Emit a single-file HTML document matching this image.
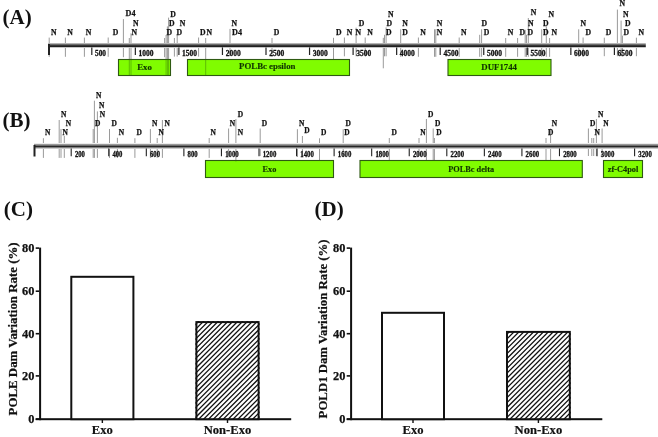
<!DOCTYPE html>
<html><head><meta charset="utf-8"><title>Figure</title>
<style>
html,body{margin:0;padding:0;background:#fff;width:658px;height:437px;overflow:hidden;}
svg{display:block;will-change:transform;}
text{font-family:"Liberation Serif", serif;font-weight:bold;}
</style></head><body>
<svg width="658" height="437" viewBox="0 0 658 437" font-family='"Liberation Serif", serif' font-weight="bold">

<rect width="658" height="437" fill="#fff"/>
<text x="2.6" y="24.3" font-size="21" fill="#111">(A)</text>
<text x="2.6" y="126.6" font-size="21" fill="#111">(B)</text>
<text x="3.8" y="216.2" font-size="21" fill="#111">(C)</text>
<text x="314.6" y="216.1" font-size="21" fill="#111">(D)</text>
<line x1="49.2" y1="37.6" x2="49.2" y2="56.8" stroke="#9a9a9a" stroke-width="1"/>
<line x1="65.4" y1="37.6" x2="65.4" y2="56.8" stroke="#9a9a9a" stroke-width="1"/>
<line x1="84.4" y1="37.6" x2="84.4" y2="56.8" stroke="#9a9a9a" stroke-width="1"/>
<line x1="108.2" y1="37.5" x2="108.2" y2="56.8" stroke="#9a9a9a" stroke-width="1"/>
<line x1="123.4" y1="19.1" x2="123.4" y2="57.2" stroke="#9a9a9a" stroke-width="1"/>
<line x1="129.3" y1="38" x2="129.3" y2="75" stroke="#9a9a9a" stroke-width="1"/>
<line x1="131.0" y1="33.3" x2="131.0" y2="75" stroke="#9a9a9a" stroke-width="1"/>
<line x1="164.6" y1="38" x2="164.6" y2="57.2" stroke="#9a9a9a" stroke-width="1"/>
<line x1="166.1" y1="35" x2="166.1" y2="75" stroke="#9a9a9a" stroke-width="1"/>
<line x1="167.4" y1="26.4" x2="167.4" y2="75" stroke="#9a9a9a" stroke-width="1"/>
<line x1="168.6" y1="17.6" x2="168.6" y2="75" stroke="#9a9a9a" stroke-width="1"/>
<line x1="174.4" y1="38" x2="174.4" y2="56.6" stroke="#9a9a9a" stroke-width="1"/>
<line x1="177.2" y1="34.6" x2="177.2" y2="56.6" stroke="#9a9a9a" stroke-width="1"/>
<line x1="198.6" y1="37.5" x2="198.6" y2="56.6" stroke="#9a9a9a" stroke-width="1"/>
<line x1="205.7" y1="38" x2="205.7" y2="75.5" stroke="#9a9a9a" stroke-width="1"/>
<line x1="230.0" y1="28.9" x2="230.0" y2="56.0" stroke="#9a9a9a" stroke-width="1"/>
<line x1="272.0" y1="38" x2="272.0" y2="56.6" stroke="#9a9a9a" stroke-width="1"/>
<line x1="333.5" y1="37.8" x2="333.5" y2="59.5" stroke="#9a9a9a" stroke-width="1"/>
<line x1="344.4" y1="37.5" x2="344.4" y2="56.3" stroke="#9a9a9a" stroke-width="1"/>
<line x1="356.1" y1="27.7" x2="356.1" y2="56.3" stroke="#9a9a9a" stroke-width="1"/>
<line x1="365.2" y1="37.5" x2="365.2" y2="56.3" stroke="#9a9a9a" stroke-width="1"/>
<line x1="383.3" y1="37.8" x2="383.3" y2="68.3" stroke="#9a9a9a" stroke-width="1"/>
<line x1="384.5" y1="34.8" x2="384.5" y2="56.3" stroke="#9a9a9a" stroke-width="1"/>
<line x1="386.1" y1="27.4" x2="386.1" y2="56.3" stroke="#9a9a9a" stroke-width="1"/>
<line x1="400.7" y1="29.3" x2="400.7" y2="56.8" stroke="#9a9a9a" stroke-width="1"/>
<line x1="418.4" y1="37.5" x2="418.4" y2="56.8" stroke="#9a9a9a" stroke-width="1"/>
<line x1="434.5" y1="29.3" x2="434.5" y2="56.8" stroke="#9a9a9a" stroke-width="1"/>
<line x1="435.8" y1="29.3" x2="435.8" y2="56.8" stroke="#9a9a9a" stroke-width="1"/>
<line x1="459.2" y1="37.5" x2="459.2" y2="56.8" stroke="#9a9a9a" stroke-width="1"/>
<line x1="479.7" y1="34.8" x2="479.7" y2="56.8" stroke="#9a9a9a" stroke-width="1"/>
<line x1="481.6" y1="29.3" x2="481.6" y2="56.8" stroke="#9a9a9a" stroke-width="1"/>
<line x1="505.7" y1="38" x2="505.7" y2="56.8" stroke="#9a9a9a" stroke-width="1"/>
<line x1="517.6" y1="38" x2="517.6" y2="56.8" stroke="#9a9a9a" stroke-width="1"/>
<line x1="525.2" y1="29.8" x2="525.2" y2="56.8" stroke="#9a9a9a" stroke-width="1"/>
<line x1="526.5" y1="34.8" x2="526.5" y2="56.8" stroke="#9a9a9a" stroke-width="1"/>
<line x1="528.3" y1="18" x2="528.3" y2="56.8" stroke="#9a9a9a" stroke-width="1"/>
<line x1="541.7" y1="29.3" x2="541.7" y2="56.8" stroke="#9a9a9a" stroke-width="1"/>
<line x1="546.3" y1="26.2" x2="546.3" y2="56.8" stroke="#9a9a9a" stroke-width="1"/>
<line x1="549.6" y1="38" x2="549.6" y2="56.8" stroke="#9a9a9a" stroke-width="1"/>
<line x1="578.7" y1="29.3" x2="578.7" y2="56.8" stroke="#9a9a9a" stroke-width="1"/>
<line x1="583.1" y1="37.5" x2="583.1" y2="56.8" stroke="#9a9a9a" stroke-width="1"/>
<line x1="604.3" y1="37.7" x2="604.3" y2="56.2" stroke="#9a9a9a" stroke-width="1"/>
<line x1="617.4" y1="9.6" x2="617.4" y2="56.2" stroke="#9a9a9a" stroke-width="1"/>
<line x1="621.1" y1="20.6" x2="621.1" y2="56.2" stroke="#9a9a9a" stroke-width="1"/>
<line x1="622.4" y1="35.6" x2="622.4" y2="56.2" stroke="#9a9a9a" stroke-width="1"/>
<line x1="636.4" y1="37.7" x2="636.4" y2="56.2" stroke="#9a9a9a" stroke-width="1"/>
<rect x="48" y="43" width="597.8" height="1" fill="#b4b4b4"/>
<rect x="48" y="44" width="597.8" height="1" fill="#6c6c6c"/>
<rect x="48" y="45" width="597.8" height="1" fill="#373737"/>
<rect x="48" y="46" width="597.8" height="1" fill="#202020"/>
<rect x="48" y="47" width="597.8" height="1" fill="#c8c8c8"/>
<rect x="48" y="44" width="2" height="11" fill="#222"/>
<line x1="91.80" y1="47.4" x2="91.80" y2="55" stroke="#222" stroke-width="1.2"/>
<text x="95.00" y="55.6" font-size="8.2" textLength="11.0" lengthAdjust="spacingAndGlyphs" fill="#111" stroke="#111" stroke-width="0.3">500</text>
<line x1="135.35" y1="47.4" x2="135.35" y2="55" stroke="#222" stroke-width="1.2"/>
<text x="138.55" y="55.6" font-size="8.2" textLength="15.0" lengthAdjust="spacingAndGlyphs" fill="#111" stroke="#111" stroke-width="0.3">1000</text>
<line x1="178.90" y1="47.4" x2="178.90" y2="55" stroke="#222" stroke-width="1.2"/>
<text x="182.10" y="55.6" font-size="8.2" textLength="15.0" lengthAdjust="spacingAndGlyphs" fill="#111" stroke="#111" stroke-width="0.3">1500</text>
<line x1="222.45" y1="47.4" x2="222.45" y2="55" stroke="#222" stroke-width="1.2"/>
<text x="225.65" y="55.6" font-size="8.2" textLength="15.0" lengthAdjust="spacingAndGlyphs" fill="#111" stroke="#111" stroke-width="0.3">2000</text>
<line x1="266.00" y1="47.4" x2="266.00" y2="55" stroke="#222" stroke-width="1.2"/>
<text x="269.20" y="55.6" font-size="8.2" textLength="15.0" lengthAdjust="spacingAndGlyphs" fill="#111" stroke="#111" stroke-width="0.3">2500</text>
<line x1="309.55" y1="47.4" x2="309.55" y2="55" stroke="#222" stroke-width="1.2"/>
<text x="312.75" y="55.6" font-size="8.2" textLength="15.0" lengthAdjust="spacingAndGlyphs" fill="#111" stroke="#111" stroke-width="0.3">3000</text>
<line x1="353.10" y1="47.4" x2="353.10" y2="55" stroke="#222" stroke-width="1.2"/>
<text x="356.30" y="55.6" font-size="8.2" textLength="15.0" lengthAdjust="spacingAndGlyphs" fill="#111" stroke="#111" stroke-width="0.3">3500</text>
<line x1="396.65" y1="47.4" x2="396.65" y2="55" stroke="#222" stroke-width="1.2"/>
<text x="399.85" y="55.6" font-size="8.2" textLength="15.0" lengthAdjust="spacingAndGlyphs" fill="#111" stroke="#111" stroke-width="0.3">4000</text>
<line x1="440.20" y1="47.4" x2="440.20" y2="55" stroke="#222" stroke-width="1.2"/>
<text x="443.40" y="55.6" font-size="8.2" textLength="15.0" lengthAdjust="spacingAndGlyphs" fill="#111" stroke="#111" stroke-width="0.3">4500</text>
<line x1="483.75" y1="47.4" x2="483.75" y2="55" stroke="#222" stroke-width="1.2"/>
<text x="486.95" y="55.6" font-size="8.2" textLength="15.0" lengthAdjust="spacingAndGlyphs" fill="#111" stroke="#111" stroke-width="0.3">5000</text>
<line x1="527.30" y1="47.4" x2="527.30" y2="55" stroke="#222" stroke-width="1.2"/>
<text x="530.50" y="55.6" font-size="8.2" textLength="15.0" lengthAdjust="spacingAndGlyphs" fill="#111" stroke="#111" stroke-width="0.3">5500</text>
<line x1="570.85" y1="47.4" x2="570.85" y2="55" stroke="#222" stroke-width="1.2"/>
<text x="574.05" y="55.6" font-size="8.2" textLength="15.0" lengthAdjust="spacingAndGlyphs" fill="#111" stroke="#111" stroke-width="0.3">6000</text>
<line x1="614.40" y1="47.4" x2="614.40" y2="55" stroke="#222" stroke-width="1.2"/>
<text x="617.60" y="55.6" font-size="8.2" textLength="15.0" lengthAdjust="spacingAndGlyphs" fill="#111" stroke="#111" stroke-width="0.3">6500</text>
<rect x="118.5" y="59.5" width="52" height="16" fill="#80fc00" stroke="#2e5a12" stroke-width="1.1"/>
<text x="144.50" y="69.60" font-size="8.8" text-anchor="middle" fill="#0f3300" stroke="#0f3300" stroke-width="0.15">Exo</text>
<rect x="187.5" y="59.5" width="162" height="16" fill="#80fc00" stroke="#2e5a12" stroke-width="1.1"/>
<text x="267.30" y="69.30" font-size="8.8" text-anchor="middle" fill="#0f3300" stroke="#0f3300" stroke-width="0.15">POLBc epsilon</text>
<rect x="448.0" y="59.5" width="103.0" height="16" fill="#80fc00" stroke="#2e5a12" stroke-width="1.1"/>
<text x="499.20" y="69.60" font-size="8.8" text-anchor="middle" fill="#0f3300" stroke="#0f3300" stroke-width="0.15">DUF1744</text>
<line x1="129.3" y1="59" x2="129.3" y2="75" stroke="#2f6a08" stroke-width="0.8" opacity="0.55"/>
<line x1="131.0" y1="59" x2="131.0" y2="75" stroke="#2f6a08" stroke-width="0.8" opacity="0.55"/>
<line x1="166.1" y1="59" x2="166.1" y2="75" stroke="#2f6a08" stroke-width="0.8" opacity="0.55"/>
<line x1="167.4" y1="59" x2="167.4" y2="75" stroke="#2f6a08" stroke-width="0.8" opacity="0.55"/>
<line x1="168.6" y1="59" x2="168.6" y2="75" stroke="#2f6a08" stroke-width="0.8" opacity="0.55"/>
<line x1="205.7" y1="59" x2="205.7" y2="75.5" stroke="#2f6a08" stroke-width="0.8" opacity="0.55"/>
<text x="50.9" y="34.5" font-size="8.6" textLength="5.6" lengthAdjust="spacingAndGlyphs" fill="#111" stroke="#111" stroke-width="0.25">N</text>
<text x="67.3" y="34.5" font-size="8.6" textLength="5.6" lengthAdjust="spacingAndGlyphs" fill="#111" stroke="#111" stroke-width="0.25">N</text>
<text x="85.7" y="34.5" font-size="8.6" textLength="5.6" lengthAdjust="spacingAndGlyphs" fill="#111" stroke="#111" stroke-width="0.25">N</text>
<text x="112.8" y="34.5" font-size="8.6" textLength="5.6" lengthAdjust="spacingAndGlyphs" fill="#111" stroke="#111" stroke-width="0.25">D</text>
<text x="125.6" y="16.200000000000003" font-size="8.6" textLength="10.0" lengthAdjust="spacingAndGlyphs" fill="#111" stroke="#111" stroke-width="0.25">D4</text>
<text x="132.9" y="25.700000000000003" font-size="8.6" textLength="5.6" lengthAdjust="spacingAndGlyphs" fill="#111" stroke="#111" stroke-width="0.25">N</text>
<text x="131.6" y="34.5" font-size="8.6" textLength="5.6" lengthAdjust="spacingAndGlyphs" fill="#111" stroke="#111" stroke-width="0.25">N</text>
<text x="170.2" y="17.400000000000002" font-size="8.6" textLength="5.6" lengthAdjust="spacingAndGlyphs" fill="#111" stroke="#111" stroke-width="0.25">D</text>
<text x="169.0" y="25.700000000000003" font-size="8.6" textLength="5.6" lengthAdjust="spacingAndGlyphs" fill="#111" stroke="#111" stroke-width="0.25">D</text>
<text x="166.5" y="34.5" font-size="8.6" textLength="5.6" lengthAdjust="spacingAndGlyphs" fill="#111" stroke="#111" stroke-width="0.25">D</text>
<text x="179.7" y="25.700000000000003" font-size="8.6" textLength="5.6" lengthAdjust="spacingAndGlyphs" fill="#111" stroke="#111" stroke-width="0.25">N</text>
<text x="176.5" y="34.5" font-size="8.6" textLength="5.6" lengthAdjust="spacingAndGlyphs" fill="#111" stroke="#111" stroke-width="0.25">D</text>
<text x="200.1" y="34.5" font-size="8.6" textLength="5.6" lengthAdjust="spacingAndGlyphs" fill="#111" stroke="#111" stroke-width="0.25">D</text>
<text x="206.6" y="34.5" font-size="8.6" textLength="5.6" lengthAdjust="spacingAndGlyphs" fill="#111" stroke="#111" stroke-width="0.25">N</text>
<text x="231.5" y="25.700000000000003" font-size="8.6" textLength="5.6" lengthAdjust="spacingAndGlyphs" fill="#111" stroke="#111" stroke-width="0.25">N</text>
<text x="232.1" y="34.5" font-size="8.6" textLength="10.0" lengthAdjust="spacingAndGlyphs" fill="#111" stroke="#111" stroke-width="0.25">D4</text>
<text x="273.8" y="34.5" font-size="8.6" textLength="5.6" lengthAdjust="spacingAndGlyphs" fill="#111" stroke="#111" stroke-width="0.25">D</text>
<text x="336.1" y="34.5" font-size="8.6" textLength="5.6" lengthAdjust="spacingAndGlyphs" fill="#111" stroke="#111" stroke-width="0.25">D</text>
<text x="346.8" y="34.5" font-size="8.6" textLength="5.6" lengthAdjust="spacingAndGlyphs" fill="#111" stroke="#111" stroke-width="0.25">N</text>
<text x="355.6" y="34.5" font-size="8.6" textLength="5.6" lengthAdjust="spacingAndGlyphs" fill="#111" stroke="#111" stroke-width="0.25">N</text>
<text x="358.8" y="25.700000000000003" font-size="8.6" textLength="5.6" lengthAdjust="spacingAndGlyphs" fill="#111" stroke="#111" stroke-width="0.25">D</text>
<text x="367.2" y="34.5" font-size="8.6" textLength="5.6" lengthAdjust="spacingAndGlyphs" fill="#111" stroke="#111" stroke-width="0.25">N</text>
<text x="388.0" y="17.1" font-size="8.6" textLength="5.6" lengthAdjust="spacingAndGlyphs" fill="#111" stroke="#111" stroke-width="0.25">N</text>
<text x="386.4" y="25.700000000000003" font-size="8.6" textLength="5.6" lengthAdjust="spacingAndGlyphs" fill="#111" stroke="#111" stroke-width="0.25">D</text>
<text x="386.1" y="34.5" font-size="8.6" textLength="5.6" lengthAdjust="spacingAndGlyphs" fill="#111" stroke="#111" stroke-width="0.25">D</text>
<text x="402.3" y="25.700000000000003" font-size="8.6" textLength="5.6" lengthAdjust="spacingAndGlyphs" fill="#111" stroke="#111" stroke-width="0.25">N</text>
<text x="402.3" y="34.5" font-size="8.6" textLength="5.6" lengthAdjust="spacingAndGlyphs" fill="#111" stroke="#111" stroke-width="0.25">D</text>
<text x="420.3" y="34.5" font-size="8.6" textLength="5.6" lengthAdjust="spacingAndGlyphs" fill="#111" stroke="#111" stroke-width="0.25">N</text>
<text x="436.7" y="25.700000000000003" font-size="8.6" textLength="5.6" lengthAdjust="spacingAndGlyphs" fill="#111" stroke="#111" stroke-width="0.25">N</text>
<text x="436.7" y="34.5" font-size="8.6" textLength="5.6" lengthAdjust="spacingAndGlyphs" fill="#111" stroke="#111" stroke-width="0.25">N</text>
<text x="461.0" y="34.5" font-size="8.6" textLength="5.6" lengthAdjust="spacingAndGlyphs" fill="#111" stroke="#111" stroke-width="0.25">N</text>
<text x="481.6" y="25.700000000000003" font-size="8.6" textLength="5.6" lengthAdjust="spacingAndGlyphs" fill="#111" stroke="#111" stroke-width="0.25">D</text>
<text x="483.7" y="34.5" font-size="8.6" textLength="5.6" lengthAdjust="spacingAndGlyphs" fill="#111" stroke="#111" stroke-width="0.25">D</text>
<text x="507.7" y="34.5" font-size="8.6" textLength="5.6" lengthAdjust="spacingAndGlyphs" fill="#111" stroke="#111" stroke-width="0.25">N</text>
<text x="519.6" y="34.5" font-size="8.6" textLength="5.6" lengthAdjust="spacingAndGlyphs" fill="#111" stroke="#111" stroke-width="0.25">D</text>
<text x="527.6" y="34.5" font-size="8.6" textLength="5.6" lengthAdjust="spacingAndGlyphs" fill="#111" stroke="#111" stroke-width="0.25">D</text>
<text x="528.0" y="25.700000000000003" font-size="8.6" textLength="5.6" lengthAdjust="spacingAndGlyphs" fill="#111" stroke="#111" stroke-width="0.25">N</text>
<text x="530.7" y="14.7" font-size="8.6" textLength="5.6" lengthAdjust="spacingAndGlyphs" fill="#111" stroke="#111" stroke-width="0.25">N</text>
<text x="543.0" y="25.700000000000003" font-size="8.6" textLength="5.6" lengthAdjust="spacingAndGlyphs" fill="#111" stroke="#111" stroke-width="0.25">D</text>
<text x="543.0" y="34.5" font-size="8.6" textLength="5.6" lengthAdjust="spacingAndGlyphs" fill="#111" stroke="#111" stroke-width="0.25">D</text>
<text x="548.4" y="17.1" font-size="8.6" textLength="5.6" lengthAdjust="spacingAndGlyphs" fill="#111" stroke="#111" stroke-width="0.25">N</text>
<text x="551.5" y="34.5" font-size="8.6" textLength="5.6" lengthAdjust="spacingAndGlyphs" fill="#111" stroke="#111" stroke-width="0.25">N</text>
<text x="580.6" y="25.700000000000003" font-size="8.6" textLength="5.6" lengthAdjust="spacingAndGlyphs" fill="#111" stroke="#111" stroke-width="0.25">N</text>
<text x="585.5" y="34.5" font-size="8.6" textLength="5.6" lengthAdjust="spacingAndGlyphs" fill="#111" stroke="#111" stroke-width="0.25">D</text>
<text x="605.7" y="34.5" font-size="8.6" textLength="5.6" lengthAdjust="spacingAndGlyphs" fill="#111" stroke="#111" stroke-width="0.25">D</text>
<text x="619.4" y="6.3" font-size="8.6" textLength="5.6" lengthAdjust="spacingAndGlyphs" fill="#111" stroke="#111" stroke-width="0.25">N</text>
<text x="623.1" y="17.200000000000003" font-size="8.6" textLength="5.6" lengthAdjust="spacingAndGlyphs" fill="#111" stroke="#111" stroke-width="0.25">N</text>
<text x="624.9" y="25.700000000000003" font-size="8.6" textLength="5.6" lengthAdjust="spacingAndGlyphs" fill="#111" stroke="#111" stroke-width="0.25">D</text>
<text x="623.5" y="34.5" font-size="8.6" textLength="5.6" lengthAdjust="spacingAndGlyphs" fill="#111" stroke="#111" stroke-width="0.25">D</text>
<text x="638.6" y="34.5" font-size="8.6" textLength="5.6" lengthAdjust="spacingAndGlyphs" fill="#111" stroke="#111" stroke-width="0.25">N</text>
<line x1="43.4" y1="138.2" x2="43.4" y2="157.9" stroke="#9a9a9a" stroke-width="1"/>
<line x1="59.2" y1="120.0" x2="59.2" y2="157.9" stroke="#9a9a9a" stroke-width="1"/>
<line x1="61.0" y1="129" x2="61.0" y2="157.9" stroke="#9a9a9a" stroke-width="1"/>
<line x1="64.3" y1="136" x2="64.3" y2="157.9" stroke="#9a9a9a" stroke-width="1"/>
<line x1="93.2" y1="129" x2="93.2" y2="157.9" stroke="#9a9a9a" stroke-width="1"/>
<line x1="94.4" y1="100.7" x2="94.4" y2="157.9" stroke="#9a9a9a" stroke-width="1"/>
<line x1="97.4" y1="111.4" x2="97.4" y2="157.9" stroke="#9a9a9a" stroke-width="1"/>
<line x1="109.5" y1="129" x2="109.5" y2="157.9" stroke="#9a9a9a" stroke-width="1"/>
<line x1="117.4" y1="137.8" x2="117.4" y2="157.9" stroke="#9a9a9a" stroke-width="1"/>
<line x1="134.9" y1="138.2" x2="134.9" y2="157.9" stroke="#9a9a9a" stroke-width="1"/>
<line x1="150.4" y1="129" x2="150.4" y2="157.9" stroke="#9a9a9a" stroke-width="1"/>
<line x1="157.2" y1="138" x2="157.2" y2="157.9" stroke="#9a9a9a" stroke-width="1"/>
<line x1="162.4" y1="120" x2="162.4" y2="157.9" stroke="#9a9a9a" stroke-width="1"/>
<line x1="209.2" y1="138" x2="209.2" y2="157.9" stroke="#9a9a9a" stroke-width="1"/>
<line x1="228.6" y1="128.5" x2="228.6" y2="156" stroke="#9a9a9a" stroke-width="1"/>
<line x1="235.9" y1="119" x2="235.9" y2="161" stroke="#9a9a9a" stroke-width="1"/>
<line x1="260.2" y1="128.5" x2="260.2" y2="156" stroke="#9a9a9a" stroke-width="1"/>
<line x1="297.4" y1="129.2" x2="297.4" y2="157" stroke="#9a9a9a" stroke-width="1"/>
<line x1="302.4" y1="136" x2="302.4" y2="157" stroke="#9a9a9a" stroke-width="1"/>
<line x1="319.5" y1="138.3" x2="319.5" y2="160" stroke="#9a9a9a" stroke-width="1"/>
<line x1="343.2" y1="129.2" x2="343.2" y2="157" stroke="#9a9a9a" stroke-width="1"/>
<line x1="389.3" y1="138" x2="389.3" y2="160" stroke="#9a9a9a" stroke-width="1"/>
<line x1="419.0" y1="138" x2="419.0" y2="156" stroke="#9a9a9a" stroke-width="1"/>
<line x1="426.4" y1="119" x2="426.4" y2="160" stroke="#9a9a9a" stroke-width="1"/>
<line x1="433.2" y1="128.5" x2="433.2" y2="160" stroke="#9a9a9a" stroke-width="1"/>
<line x1="434.4" y1="138" x2="434.4" y2="160" stroke="#9a9a9a" stroke-width="1"/>
<line x1="546.0" y1="138" x2="546.0" y2="160" stroke="#9a9a9a" stroke-width="1"/>
<line x1="550.6" y1="128.5" x2="550.6" y2="160" stroke="#9a9a9a" stroke-width="1"/>
<line x1="588.4" y1="128.5" x2="588.4" y2="156" stroke="#9a9a9a" stroke-width="1"/>
<line x1="591.8" y1="138" x2="591.8" y2="156" stroke="#9a9a9a" stroke-width="1"/>
<line x1="593.7" y1="138" x2="593.7" y2="156" stroke="#9a9a9a" stroke-width="1"/>
<line x1="596.4" y1="119" x2="596.4" y2="156" stroke="#9a9a9a" stroke-width="1"/>
<line x1="602.1" y1="128.5" x2="602.1" y2="156" stroke="#9a9a9a" stroke-width="1"/>
<rect x="34" y="143" width="624" height="1" fill="#ececec"/>
<rect x="34" y="144" width="624" height="1" fill="#9a9a9a"/>
<rect x="34" y="145" width="624" height="1" fill="#6e6e6e"/>
<rect x="34" y="146" width="624" height="1" fill="#262626"/>
<rect x="34" y="147" width="624" height="1" fill="#808080"/>
<rect x="34" y="148" width="624" height="1" fill="#cccccc"/>
<rect x="33.5" y="145" width="2" height="11.5" fill="#222"/>
<line x1="71.20" y1="148.5" x2="71.20" y2="156.2" stroke="#222" stroke-width="1.1"/>
<text x="74.90" y="157.4" font-size="7.7" textLength="10.0" lengthAdjust="spacingAndGlyphs" fill="#111" stroke="#111" stroke-width="0.3">200</text>
<line x1="108.76" y1="148.5" x2="108.76" y2="156.2" stroke="#222" stroke-width="1.1"/>
<text x="112.46" y="157.4" font-size="7.7" textLength="10.0" lengthAdjust="spacingAndGlyphs" fill="#111" stroke="#111" stroke-width="0.3">400</text>
<line x1="146.32" y1="148.5" x2="146.32" y2="156.2" stroke="#222" stroke-width="1.1"/>
<text x="150.02" y="157.4" font-size="7.7" textLength="10.0" lengthAdjust="spacingAndGlyphs" fill="#111" stroke="#111" stroke-width="0.3">600</text>
<line x1="183.88" y1="148.5" x2="183.88" y2="156.2" stroke="#222" stroke-width="1.1"/>
<text x="187.58" y="157.4" font-size="7.7" textLength="10.0" lengthAdjust="spacingAndGlyphs" fill="#111" stroke="#111" stroke-width="0.3">800</text>
<line x1="221.44" y1="148.5" x2="221.44" y2="156.2" stroke="#222" stroke-width="1.1"/>
<text x="225.14" y="157.4" font-size="7.7" textLength="13.6" lengthAdjust="spacingAndGlyphs" fill="#111" stroke="#111" stroke-width="0.3">1000</text>
<line x1="259.00" y1="148.5" x2="259.00" y2="156.2" stroke="#222" stroke-width="1.1"/>
<text x="262.70" y="157.4" font-size="7.7" textLength="13.6" lengthAdjust="spacingAndGlyphs" fill="#111" stroke="#111" stroke-width="0.3">1200</text>
<line x1="296.56" y1="148.5" x2="296.56" y2="156.2" stroke="#222" stroke-width="1.1"/>
<text x="300.26" y="157.4" font-size="7.7" textLength="13.6" lengthAdjust="spacingAndGlyphs" fill="#111" stroke="#111" stroke-width="0.3">1400</text>
<line x1="334.12" y1="148.5" x2="334.12" y2="156.2" stroke="#222" stroke-width="1.1"/>
<text x="337.82" y="157.4" font-size="7.7" textLength="13.6" lengthAdjust="spacingAndGlyphs" fill="#111" stroke="#111" stroke-width="0.3">1600</text>
<line x1="371.68" y1="148.5" x2="371.68" y2="156.2" stroke="#222" stroke-width="1.1"/>
<text x="375.38" y="157.4" font-size="7.7" textLength="13.6" lengthAdjust="spacingAndGlyphs" fill="#111" stroke="#111" stroke-width="0.3">1800</text>
<line x1="409.24" y1="148.5" x2="409.24" y2="156.2" stroke="#222" stroke-width="1.1"/>
<text x="412.94" y="157.4" font-size="7.7" textLength="13.6" lengthAdjust="spacingAndGlyphs" fill="#111" stroke="#111" stroke-width="0.3">2000</text>
<line x1="446.80" y1="148.5" x2="446.80" y2="156.2" stroke="#222" stroke-width="1.1"/>
<text x="450.50" y="157.4" font-size="7.7" textLength="13.6" lengthAdjust="spacingAndGlyphs" fill="#111" stroke="#111" stroke-width="0.3">2200</text>
<line x1="484.36" y1="148.5" x2="484.36" y2="156.2" stroke="#222" stroke-width="1.1"/>
<text x="488.06" y="157.4" font-size="7.7" textLength="13.6" lengthAdjust="spacingAndGlyphs" fill="#111" stroke="#111" stroke-width="0.3">2400</text>
<line x1="521.92" y1="148.5" x2="521.92" y2="156.2" stroke="#222" stroke-width="1.1"/>
<text x="525.62" y="157.4" font-size="7.7" textLength="13.6" lengthAdjust="spacingAndGlyphs" fill="#111" stroke="#111" stroke-width="0.3">2600</text>
<line x1="559.48" y1="148.5" x2="559.48" y2="156.2" stroke="#222" stroke-width="1.1"/>
<text x="563.18" y="157.4" font-size="7.7" textLength="13.6" lengthAdjust="spacingAndGlyphs" fill="#111" stroke="#111" stroke-width="0.3">2800</text>
<line x1="597.04" y1="148.5" x2="597.04" y2="156.2" stroke="#222" stroke-width="1.1"/>
<text x="600.74" y="157.4" font-size="7.7" textLength="13.6" lengthAdjust="spacingAndGlyphs" fill="#111" stroke="#111" stroke-width="0.3">3000</text>
<line x1="634.60" y1="148.5" x2="634.60" y2="156.2" stroke="#222" stroke-width="1.1"/>
<text x="638.30" y="157.4" font-size="7.7" textLength="13.6" lengthAdjust="spacingAndGlyphs" fill="#111" stroke="#111" stroke-width="0.3">3200</text>
<rect x="205.5" y="160.5" width="128" height="17" fill="#80fc00" stroke="#2e5a12" stroke-width="1.1"/>
<text x="269.50" y="171.70" font-size="8.3" text-anchor="middle" fill="#0f3300" stroke="#0f3300" stroke-width="0.15">Exo</text>
<rect x="360.0" y="160.5" width="222.29999999999995" height="17" fill="#80fc00" stroke="#2e5a12" stroke-width="1.1"/>
<text x="471.15" y="171.70" font-size="8.3" text-anchor="middle" fill="#0f3300" stroke="#0f3300" stroke-width="0.15">POLBc delta</text>
<rect x="603.5" y="160.5" width="39" height="17" fill="#80fc00" stroke="#2e5a12" stroke-width="1.1"/>
<text x="623.00" y="171.70" font-size="8.3" text-anchor="middle" fill="#0f3300" stroke="#0f3300" stroke-width="0.15">zf-C4pol</text>
<line x1="235.9" y1="160" x2="235.9" y2="161.5" stroke="#2f6a08" stroke-width="0.8" opacity="0.55"/>
<line x1="319.5" y1="160" x2="319.5" y2="160.5" stroke="#2f6a08" stroke-width="0.8" opacity="0.55"/>
<line x1="389.3" y1="160" x2="389.3" y2="160.5" stroke="#2f6a08" stroke-width="0.8" opacity="0.55"/>
<line x1="426.4" y1="160" x2="426.4" y2="160.5" stroke="#2f6a08" stroke-width="0.8" opacity="0.55"/>
<line x1="433.2" y1="160" x2="433.2" y2="160.5" stroke="#2f6a08" stroke-width="0.8" opacity="0.55"/>
<line x1="434.4" y1="160" x2="434.4" y2="160.5" stroke="#2f6a08" stroke-width="0.8" opacity="0.55"/>
<line x1="546.0" y1="160" x2="546.0" y2="160.5" stroke="#2f6a08" stroke-width="0.8" opacity="0.55"/>
<line x1="550.6" y1="160" x2="550.6" y2="160.5" stroke="#2f6a08" stroke-width="0.8" opacity="0.55"/>
<text x="45.1" y="135.1" font-size="8.4" textLength="5.4" lengthAdjust="spacingAndGlyphs" fill="#111" stroke="#111" stroke-width="0.25">N</text>
<text x="60.9" y="116.9" font-size="8.4" textLength="5.4" lengthAdjust="spacingAndGlyphs" fill="#111" stroke="#111" stroke-width="0.25">N</text>
<text x="65.7" y="126.2" font-size="8.4" textLength="5.4" lengthAdjust="spacingAndGlyphs" fill="#111" stroke="#111" stroke-width="0.25">N</text>
<text x="62.6" y="135.1" font-size="8.4" textLength="5.4" lengthAdjust="spacingAndGlyphs" fill="#111" stroke="#111" stroke-width="0.25">N</text>
<text x="96.1" y="97.80000000000001" font-size="8.4" textLength="5.4" lengthAdjust="spacingAndGlyphs" fill="#111" stroke="#111" stroke-width="0.25">N</text>
<text x="99.1" y="108.0" font-size="8.4" textLength="5.4" lengthAdjust="spacingAndGlyphs" fill="#111" stroke="#111" stroke-width="0.25">N</text>
<text x="99.8" y="116.9" font-size="8.4" textLength="5.4" lengthAdjust="spacingAndGlyphs" fill="#111" stroke="#111" stroke-width="0.25">N</text>
<text x="95.0" y="126.2" font-size="8.4" textLength="5.4" lengthAdjust="spacingAndGlyphs" fill="#111" stroke="#111" stroke-width="0.25">D</text>
<text x="111.6" y="126.2" font-size="8.4" textLength="5.4" lengthAdjust="spacingAndGlyphs" fill="#111" stroke="#111" stroke-width="0.25">D</text>
<text x="118.7" y="135.1" font-size="8.4" textLength="5.4" lengthAdjust="spacingAndGlyphs" fill="#111" stroke="#111" stroke-width="0.25">N</text>
<text x="136.6" y="135.1" font-size="8.4" textLength="5.4" lengthAdjust="spacingAndGlyphs" fill="#111" stroke="#111" stroke-width="0.25">D</text>
<text x="152.0" y="126.2" font-size="8.4" textLength="5.4" lengthAdjust="spacingAndGlyphs" fill="#111" stroke="#111" stroke-width="0.25">N</text>
<text x="158.6" y="135.1" font-size="8.4" textLength="5.4" lengthAdjust="spacingAndGlyphs" fill="#111" stroke="#111" stroke-width="0.25">N</text>
<text x="164.6" y="126.2" font-size="8.4" textLength="5.4" lengthAdjust="spacingAndGlyphs" fill="#111" stroke="#111" stroke-width="0.25">N</text>
<text x="210.6" y="135.1" font-size="8.4" textLength="5.4" lengthAdjust="spacingAndGlyphs" fill="#111" stroke="#111" stroke-width="0.25">N</text>
<text x="229.7" y="126.2" font-size="8.4" textLength="5.4" lengthAdjust="spacingAndGlyphs" fill="#111" stroke="#111" stroke-width="0.25">N</text>
<text x="237.8" y="116.9" font-size="8.4" textLength="5.4" lengthAdjust="spacingAndGlyphs" fill="#111" stroke="#111" stroke-width="0.25">D</text>
<text x="237.8" y="135.1" font-size="8.4" textLength="5.4" lengthAdjust="spacingAndGlyphs" fill="#111" stroke="#111" stroke-width="0.25">N</text>
<text x="261.8" y="126.2" font-size="8.4" textLength="5.4" lengthAdjust="spacingAndGlyphs" fill="#111" stroke="#111" stroke-width="0.25">D</text>
<text x="299.0" y="126.2" font-size="8.4" textLength="5.4" lengthAdjust="spacingAndGlyphs" fill="#111" stroke="#111" stroke-width="0.25">N</text>
<text x="304.3" y="133.0" font-size="8.4" textLength="5.4" lengthAdjust="spacingAndGlyphs" fill="#111" stroke="#111" stroke-width="0.25">D</text>
<text x="321.1" y="135.1" font-size="8.4" textLength="5.4" lengthAdjust="spacingAndGlyphs" fill="#111" stroke="#111" stroke-width="0.25">D</text>
<text x="345.5" y="126.2" font-size="8.4" textLength="5.4" lengthAdjust="spacingAndGlyphs" fill="#111" stroke="#111" stroke-width="0.25">D</text>
<text x="344.3" y="135.1" font-size="8.4" textLength="5.4" lengthAdjust="spacingAndGlyphs" fill="#111" stroke="#111" stroke-width="0.25">D</text>
<text x="391.4" y="135.1" font-size="8.4" textLength="5.4" lengthAdjust="spacingAndGlyphs" fill="#111" stroke="#111" stroke-width="0.25">D</text>
<text x="420.2" y="135.1" font-size="8.4" textLength="5.4" lengthAdjust="spacingAndGlyphs" fill="#111" stroke="#111" stroke-width="0.25">N</text>
<text x="428.0" y="116.9" font-size="8.4" textLength="5.4" lengthAdjust="spacingAndGlyphs" fill="#111" stroke="#111" stroke-width="0.25">D</text>
<text x="435.0" y="126.2" font-size="8.4" textLength="5.4" lengthAdjust="spacingAndGlyphs" fill="#111" stroke="#111" stroke-width="0.25">D</text>
<text x="436.2" y="135.1" font-size="8.4" textLength="5.4" lengthAdjust="spacingAndGlyphs" fill="#111" stroke="#111" stroke-width="0.25">D</text>
<text x="547.9" y="135.1" font-size="8.4" textLength="5.4" lengthAdjust="spacingAndGlyphs" fill="#111" stroke="#111" stroke-width="0.25">D</text>
<text x="551.8" y="126.2" font-size="8.4" textLength="5.4" lengthAdjust="spacingAndGlyphs" fill="#111" stroke="#111" stroke-width="0.25">N</text>
<text x="590.0" y="126.2" font-size="8.4" textLength="5.4" lengthAdjust="spacingAndGlyphs" fill="#111" stroke="#111" stroke-width="0.25">D</text>
<text x="598.0" y="116.9" font-size="8.4" textLength="5.4" lengthAdjust="spacingAndGlyphs" fill="#111" stroke="#111" stroke-width="0.25">N</text>
<text x="594.6" y="135.1" font-size="8.4" textLength="5.4" lengthAdjust="spacingAndGlyphs" fill="#111" stroke="#111" stroke-width="0.25">N</text>
<text x="603.3" y="126.2" font-size="8.4" textLength="5.4" lengthAdjust="spacingAndGlyphs" fill="#111" stroke="#111" stroke-width="0.25">N</text>
<rect x="39.1" y="247.6" width="2" height="172.6" fill="#111"/>
<rect x="35.7" y="418.2" width="255.5" height="2" fill="#111"/>
<rect x="35.7" y="418.4" width="3.4" height="1.6" fill="#111"/>
<text x="34.50" y="423.20" font-size="12.4" text-anchor="end" fill="#111" stroke="#111" stroke-width="0.25">0</text>
<rect x="35.7" y="375.09999999999997" width="3.4" height="1.6" fill="#111"/>
<text x="34.50" y="379.90" font-size="12.4" text-anchor="end" fill="#111" stroke="#111" stroke-width="0.25">20</text>
<rect x="35.7" y="332.9" width="3.4" height="1.6" fill="#111"/>
<text x="34.50" y="337.70" font-size="12.4" text-anchor="end" fill="#111" stroke="#111" stroke-width="0.25">40</text>
<rect x="35.7" y="290.4" width="3.4" height="1.6" fill="#111"/>
<text x="34.50" y="295.20" font-size="12.4" text-anchor="end" fill="#111" stroke="#111" stroke-width="0.25">60</text>
<rect x="35.7" y="247.29999999999998" width="3.4" height="1.6" fill="#111"/>
<text x="34.50" y="252.10" font-size="12.4" text-anchor="end" fill="#111" stroke="#111" stroke-width="0.25">80</text>
<rect x="71.3" y="276.80" width="62.10" height="142.40" fill="#fff"/>
<rect x="71.3" y="276.80" width="62.10" height="142.40" fill="none" stroke="#111" stroke-width="2"/>
<rect x="101.65" y="420" width="1.4" height="3.0" fill="#111"/>
<text x="102.35" y="433.9" font-size="12.6" text-anchor="middle" fill="#111" stroke="#111" stroke-width="0.2">Exo</text>
<rect x="196.4" y="322.10" width="62.20" height="97.10" fill="#fff"/>
<clipPath id="clip195"><rect x="195.4" y="321.1" width="64.20000000000002" height="98.09999999999997"/></clipPath>
<path clip-path="url(#clip195)" d="M89.10,421L190.00,320.10M94.00,421L194.90,320.10M98.90,421L199.80,320.10M103.80,421L204.70,320.10M108.70,421L209.60,320.10M113.60,421L214.50,320.10M118.50,421L219.40,320.10M123.40,421L224.30,320.10M128.30,421L229.20,320.10M133.20,421L234.10,320.10M138.10,421L239.00,320.10M143.00,421L243.90,320.10M147.90,421L248.80,320.10M152.80,421L253.70,320.10M157.70,421L258.60,320.10M162.60,421L263.50,320.10M167.50,421L268.40,320.10M172.40,421L273.30,320.10M177.30,421L278.20,320.10M182.20,421L283.10,320.10M187.10,421L288.00,320.10M192.00,421L292.90,320.10M196.90,421L297.80,320.10M201.80,421L302.70,320.10M206.70,421L307.60,320.10M211.60,421L312.50,320.10M216.50,421L317.40,320.10M221.40,421L322.30,320.10M226.30,421L327.20,320.10M231.20,421L332.10,320.10M236.10,421L337.00,320.10M241.00,421L341.90,320.10M245.90,421L346.80,320.10M250.80,421L351.70,320.10M255.70,421L356.60,320.10M260.60,421L361.50,320.10" stroke="#111" stroke-width="1.3" fill="none"/>
<rect x="196.4" y="322.10" width="62.20" height="97.10" fill="none" stroke="#111" stroke-width="2"/>
<rect x="226.80" y="420" width="1.4" height="3.0" fill="#111"/>
<text x="227.50" y="433.9" font-size="12.6" text-anchor="middle" fill="#111" stroke="#111" stroke-width="0.2">Non-Exo</text>
<text transform="translate(16.5,328.9) rotate(-90)" x="0" y="0" font-size="12.4" text-anchor="middle" textLength="173" lengthAdjust="spacingAndGlyphs" fill="#111" stroke="#111" stroke-width="0.2">POLE Dam Variation Rate (%)</text>
<rect x="350.1" y="247.6" width="2" height="172.6" fill="#111"/>
<rect x="346.70000000000005" y="418.2" width="255.5999999999999" height="2" fill="#111"/>
<rect x="346.70000000000005" y="418.4" width="3.4" height="1.6" fill="#111"/>
<text x="345.50" y="423.20" font-size="12.4" text-anchor="end" fill="#111" stroke="#111" stroke-width="0.25">0</text>
<rect x="346.70000000000005" y="375.09999999999997" width="3.4" height="1.6" fill="#111"/>
<text x="345.50" y="379.90" font-size="12.4" text-anchor="end" fill="#111" stroke="#111" stroke-width="0.25">20</text>
<rect x="346.70000000000005" y="332.9" width="3.4" height="1.6" fill="#111"/>
<text x="345.50" y="337.70" font-size="12.4" text-anchor="end" fill="#111" stroke="#111" stroke-width="0.25">40</text>
<rect x="346.70000000000005" y="290.4" width="3.4" height="1.6" fill="#111"/>
<text x="345.50" y="295.20" font-size="12.4" text-anchor="end" fill="#111" stroke="#111" stroke-width="0.25">60</text>
<rect x="346.70000000000005" y="247.29999999999998" width="3.4" height="1.6" fill="#111"/>
<text x="345.50" y="252.10" font-size="12.4" text-anchor="end" fill="#111" stroke="#111" stroke-width="0.25">80</text>
<rect x="382" y="312.80" width="62.00" height="106.40" fill="#fff"/>
<rect x="382" y="312.80" width="62.00" height="106.40" fill="none" stroke="#111" stroke-width="2"/>
<rect x="412.30" y="420" width="1.4" height="3.0" fill="#111"/>
<text x="413.00" y="433.9" font-size="12.6" text-anchor="middle" fill="#111" stroke="#111" stroke-width="0.2">Exo</text>
<rect x="507" y="331.90" width="62.80" height="87.30" fill="#fff"/>
<clipPath id="clip506"><rect x="506" y="330.9" width="64.79999999999995" height="88.30000000000001"/></clipPath>
<path clip-path="url(#clip506)" d="M410.20,421L501.30,329.90M415.10,421L506.20,329.90M420.00,421L511.10,329.90M424.90,421L516.00,329.90M429.80,421L520.90,329.90M434.70,421L525.80,329.90M439.60,421L530.70,329.90M444.50,421L535.60,329.90M449.40,421L540.50,329.90M454.30,421L545.40,329.90M459.20,421L550.30,329.90M464.10,421L555.20,329.90M469.00,421L560.10,329.90M473.90,421L565.00,329.90M478.80,421L569.90,329.90M483.70,421L574.80,329.90M488.60,421L579.70,329.90M493.50,421L584.60,329.90M498.40,421L589.50,329.90M503.30,421L594.40,329.90M508.20,421L599.30,329.90M513.10,421L604.20,329.90M518.00,421L609.10,329.90M522.90,421L614.00,329.90M527.80,421L618.90,329.90M532.70,421L623.80,329.90M537.60,421L628.70,329.90M542.50,421L633.60,329.90M547.40,421L638.50,329.90M552.30,421L643.40,329.90M557.20,421L648.30,329.90M562.10,421L653.20,329.90M567.00,421L658.10,329.90M571.90,421L663.00,329.90" stroke="#111" stroke-width="1.3" fill="none"/>
<rect x="507" y="331.90" width="62.80" height="87.30" fill="none" stroke="#111" stroke-width="2"/>
<rect x="537.70" y="420" width="1.4" height="3.0" fill="#111"/>
<text x="538.40" y="433.9" font-size="12.6" text-anchor="middle" fill="#111" stroke="#111" stroke-width="0.2">Non-Exo</text>
<text transform="translate(327.4,328.9) rotate(-90)" x="0" y="0" font-size="12.4" text-anchor="middle" textLength="179" lengthAdjust="spacingAndGlyphs" fill="#111" stroke="#111" stroke-width="0.2">POLD1 Dam Variation Rate (%)</text>
</svg>
</body></html>
